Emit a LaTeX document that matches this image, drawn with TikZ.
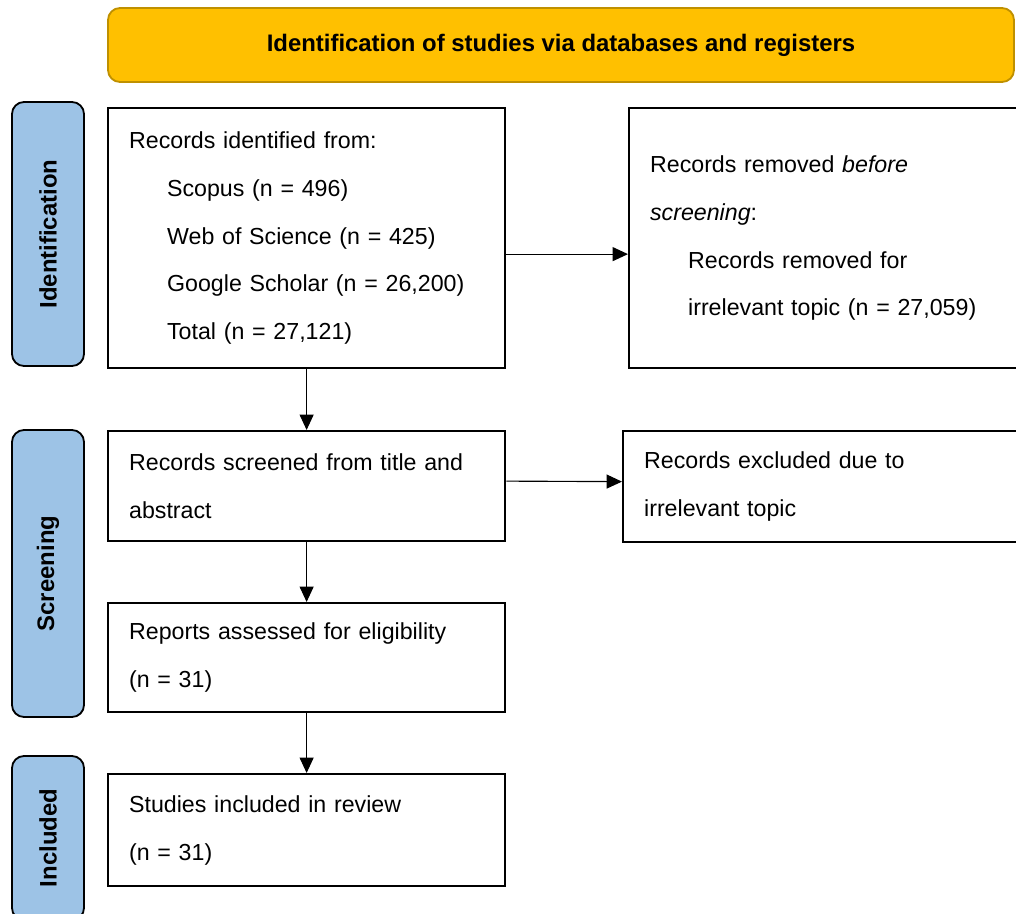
\documentclass[tikz,border=0pt]{standalone}
\usepackage{fontspec}
\setmainfont{Liberation Sans}
\usetikzlibrary{arrows.meta}

\definecolor{headgold}{RGB}{255,192,0}
\definecolor{headedge}{RGB}{191,144,0}
\definecolor{phaseblue}{RGB}{157,195,230}

\begin{document}
\begin{tikzpicture}[
    box/.style={draw, line width=1.6pt, anchor=north west, align=left,
        inner xsep=0.525cm, inner ysep=0pt, text width=8.875cm,
        font=\fontsize{16.5}{34}\selectfont},
    phase/.style={draw, line width=1.3pt, fill=phaseblue, rounded corners=0.3cm,
        rotate=90, minimum height=1.8cm, inner sep=0pt,
        font=\fontsize{17}{20}\selectfont\bfseries},
    arr/.style={-{Triangle[length=11pt,width=10pt]}, line width=0.8pt}
    ]
    \clip (0,0) rectangle (25.4,-22.825);

    % header
    \node[draw=headedge, line width=1.3pt, fill=headgold, rounded corners=0.3cm,
        minimum width=22.65cm, minimum height=1.85cm,
        font=\fontsize{17}{20}\selectfont\bfseries] (head) at (14.025,-1.125)
        {\raisebox{-2pt}{Identification of studies via databases and registers}};

    % phases
    \node[phase, minimum width=6.6cm] (pid) at (1.2,-5.85) {Identification};
    \node[phase, minimum width=7.175cm] (pscr) at (1.2,-14.3375) {Screening};
    \node[phase, minimum width=4.1cm] (pinc) at (1.2,-20.95) {Included};

    % identification
    \node[box, minimum height=6.5cm] (rec) at (2.675,-2.675)
        {Records identified from:\\
         \hspace*{0.95cm}Scopus (n = 496)\\
         \hspace*{0.95cm}Web of Science (n = 425)\\
         \hspace*{0.95cm}Google Scholar (n = 26,200)\\
         \hspace*{0.95cm}Total (n = 27,121)};
    \node[box, minimum height=6.5cm, text width=9.5cm] (rem) at (15.7,-2.675)
        {Records removed \textit{before}\\
         \textit{screening}:\\
         \hspace*{0.95cm}Records removed for\\
         \hspace*{0.95cm}irrelevant topic (n = 27,059)};

    % screening
    \node[box, minimum height=2.75cm] (scr) at (2.675,-10.75)
        {Records screened from title and\\ abstract};
    \node[box, minimum height=2.775cm, text width=9.5cm] (exc) at (15.55,-10.75)
        {Records excluded due to\\ irrelevant topic};
    \node[box, minimum height=2.725cm] (rep) at (2.675,-15.05)
        {Reports assessed for eligibility\\ (n = 31)};

    % included
    \node[box, minimum height=2.8cm] (inc) at (2.675,-19.325)
        {Studies included in review\\ (n = 31)};

    \draw[arr] ([yshift=-0.4cm]rec.east) -- ([yshift=-0.4cm]rem.west);
    \draw[arr] ([yshift=0.125cm]scr.east) -- ([yshift=0.125cm]exc.west);
    \draw[arr] (rec.south) -- (scr.north);
    \draw[arr] (scr.south) -- (rep.north);
    \draw[arr] (rep.south) -- (inc.north);
\end{tikzpicture}
\end{document}
